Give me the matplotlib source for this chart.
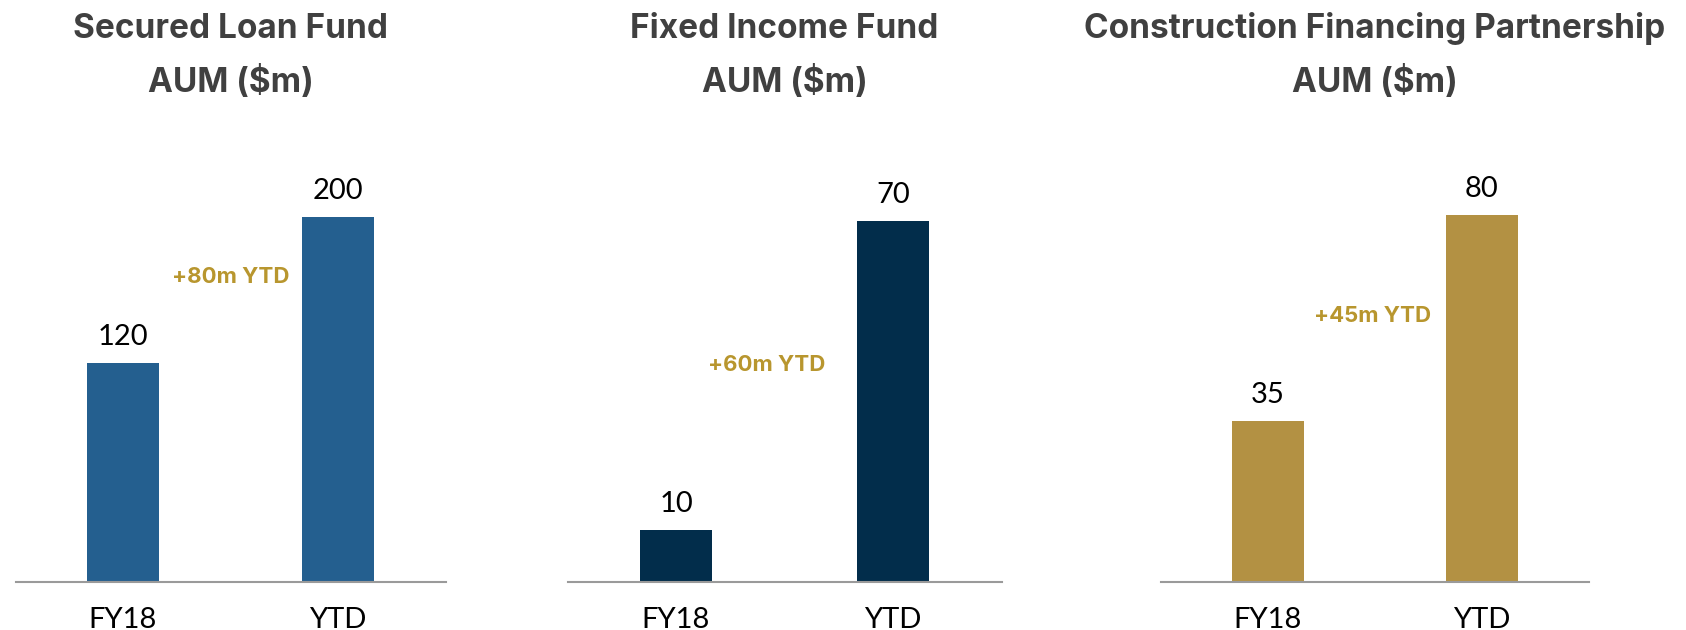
import matplotlib
matplotlib.use("Agg")
import matplotlib.pyplot as plt

# dados dos três fundos
fund_names = ["Secured Loan Fund", "Fixed Income Fund", "Construction Financing Partnership"]
periods = ["FY18", "YTD"]
secured_loan = [120, 200]
fixed_income = [10, 70]
construction = [35, 80]
growth_labels = ["+80m YTD", "+60m YTD", "+45m YTD"]

plt.rcParams["font.family"] = ["Lato", "DejaVu Sans"]
bold_font = ["Inter", "Lato", "DejaVu Sans"]

fig = plt.figure(figsize=(16.86, 6.3), dpi=100)
W, H = 1686, 630

series = [secured_loan, fixed_income, construction]
bar_colors = ["#245F8F", "#022D4B", "#B39143"]
# posição de cada painel em pixels: esquerda, largura, topo do eixo y
panels = [(15.5, 430, 236.7), (567.5, 434, 83.8), (1161, 428, 94.2)]
growth_pos = [(0.5, 167), (0.42, 42), (0.49, 58)]

ax_bottom = 582
ax_height = 432

for i, (name, vals) in enumerate(zip(fund_names, series)):
    left, width, ymax = panels[i]
    ax = fig.add_axes([left / W, (H - ax_bottom) / H, width / W, ax_height / H])
    x = range(len(periods))
    bars = ax.bar(x, vals, width=0.335, color=bar_colors[i])

    for b, v in zip(bars, vals):
        ax.annotate(str(v), (b.get_x() + b.get_width() / 2, v),
                    xytext=(0, 13), textcoords="offset points",
                    ha="center", va="baseline", fontsize=21, color="black")

    ax.set_xlim(-0.5, 1.5)
    ax.set_ylim(0, ymax)
    ax.set_xticks(list(x))
    ax.set_xticklabels(periods, fontsize=21, color="black")
    ax.tick_params(axis="x", length=0, pad=18)
    ax.set_yticks([])
    for s in ["top", "right", "left"]:
        ax.spines[s].set_visible(False)
    ax.spines["bottom"].set_color("#9A9A9A")
    ax.spines["bottom"].set_linewidth(1.5)

    trans = ax.get_xaxis_transform()
    ax.text(0.5, (ax_bottom - 38) / ax_height, name, transform=trans,
            ha="center", va="baseline", fontsize=24, fontweight="bold",
            family=bold_font, color="#404040", clip_on=False)
    ax.text(0.5, (ax_bottom - 92) / ax_height, "AUM ($m)", transform=trans,
            ha="center", va="baseline", fontsize=24, fontweight="bold",
            family=bold_font, color="#404040", clip_on=False)

    gx, gy = growth_pos[i]
    ax.text(gx, gy, growth_labels[i], ha="center", va="center",
            fontsize=16, fontweight="bold", family=bold_font, color="#B8962E")

fig.savefig("out.png", dpi=100)
